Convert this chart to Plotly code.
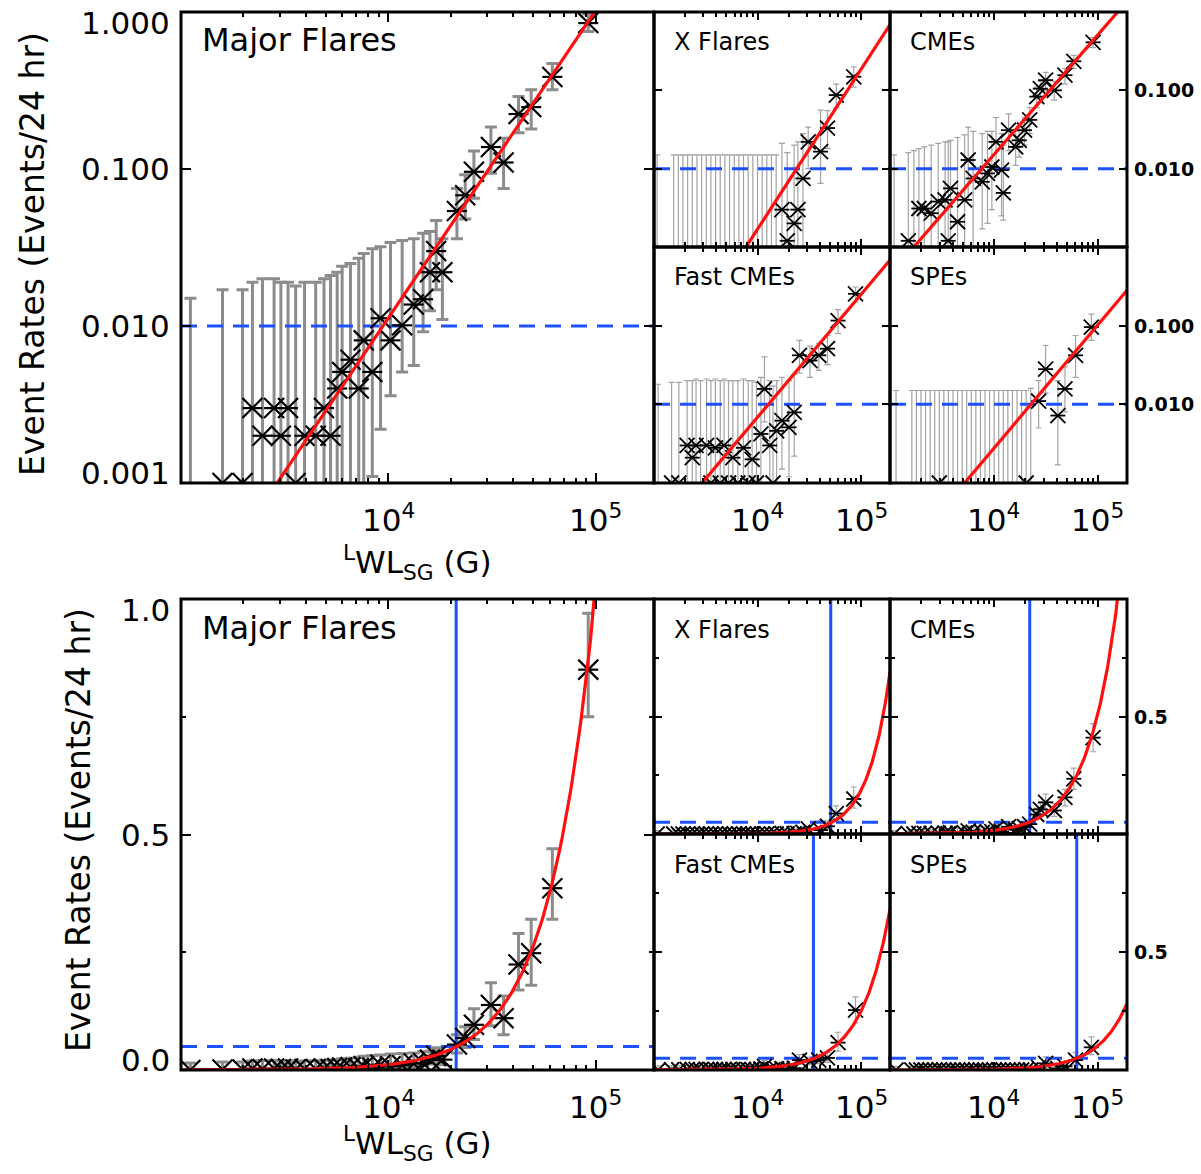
import numpy as np
import plotly.graph_objects as go

# ---------------- data ----------------
panel_names = ["Major Flares", "X Flares", "CMEs", "Fast CMEs", "SPEs"]

# Major flares: bin LWL_SG (G), event rate (events / 24 hr), error-bar upper / lower ends
lwl_major = [1110, 1585, 1980, 2210, 2470, 2810, 3030, 3280, 3570, 3940, 4460, 4890, 5260,
             5660, 5980, 6560, 7190, 7600, 8360, 9160, 10230, 11640, 13240, 14690, 15850,
             16980, 18200, 21380, 23440, 25820, 31190, 35890, 42360, 48750, 61660, 91830]
rate_major = [0, 0.001, 0.001, 0.003, 0.002, 0.003, 0.002, 0.003, 0.001, 0.002, 0.002, 0.003,
              0.002, 0.004, 0.0051, 0.0061, 0.004, 0.0081, 0.0051, 0.0112, 0.0081, 0.0101,
              0.0137, 0.0148, 0.022, 0.030, 0.022, 0.054, 0.068, 0.096, 0.138, 0.110, 0.224,
              0.248, 0.386, 0.85]
hi_major = [0.015, 0.017, 0.017, 0.019, 0.020, 0.020, 0.019, 0.019, 0.018, 0.019, 0.019, 0.020,
            0.021, 0.022, 0.024, 0.025, 0.027, 0.029, 0.031, 0.032, 0.034, 0.035, 0.036, 0.039,
            0.040, 0.047, 0.036, 0.075, 0.092, 0.13, 0.185, 0.157, 0.29, 0.32, 0.47, 0.97]
lo_major = [0, 0, 0, 0, 0, 0, 0, 0, 0, 0, 0, 0, 0, 0, 0, 0, 0, 0, 0.0011, 0.0022, 0.0036,
            0.0051, 0.0056, 0.0092, 0.0125, 0.017, 0.011, 0.036, 0.048, 0.065, 0.094, 0.075,
            0.17, 0.18, 0.32, 0.75]

# X flares
lwl_xfl = [1072, 1549, 1718, 1905, 2113, 2344, 2600, 2884, 3199, 3548, 3936, 4365, 4842, 5370,
           5957, 6607, 7328, 8128, 9016, 10000, 11092, 12303, 13646, 15136, 17219, 19364,
           22594, 24547, 27479, 30903, 40644, 47424, 57677, 85114]
rate_xfl = [0, 0, 0, 0, 0, 0, 0, 0, 0, 0, 0, 0, 0, 0, 0, 0, 0, 0, 0, 0, 0, 0, 0, 0,
            0.003, 0.0012, 0.002, 0.003, 0.0075, 0.022, 0.0165, 0.033, 0.087, 0.149]
hi_xfl = [0.015, 0.015, 0.015, 0.015, 0.015, 0.015, 0.015, 0.015, 0.015, 0.015, 0.015, 0.015,
          0.015, 0.015, 0.015, 0.015, 0.015, 0.015, 0.015, 0.015, 0.015, 0.015, 0.015, 0.015,
          0.021, 0.016, 0.020, 0.022, 0.028, 0.034, 0.056, 0.055, 0.12, 0.20]
lo_xfl = [0, 0, 0, 0, 0, 0, 0, 0, 0, 0, 0, 0, 0, 0, 0, 0, 0, 0, 0, 0, 0, 0, 0, 0,
          0, 0, 0, 0, 0, 0.010, 0.0065, 0.018, 0.06, 0.11]

# CMEs
lwl_cme = [1096, 1500, 1698, 1897, 2138, 2489, 2911, 3388, 3631, 3819, 4467, 5224, 5649, 6310,
           7709, 8670, 9550, 10471, 11830, 12303, 13836, 16181, 17498, 19679, 22080, 25823,
           27925, 31405, 38107, 48195, 58614, 89950]
rate_cme = [0, 0.0012, 0, 0.0031, 0.0031, 0.0027, 0.0038, 0.004, 0.0012, 0.0056, 0.0021, 0.004,
            0.0129, 0.0075, 0.0068, 0.0087, 0.0105, 0.022, 0.0096, 0.0049, 0.031, 0.019, 0.023,
            0.031, 0.042, 0.083, 0.105, 0.135, 0.10, 0.156, 0.235, 0.41]
hi_cme = [0.015, 0.016, 0.017, 0.018, 0.019, 0.020, 0.021, 0.022, 0.022, 0.023, 0.025, 0.027,
          0.034, 0.030, 0.028, 0.030, 0.030, 0.045, 0.028, 0.020, 0.050, 0.030, 0.035, 0.045,
          0.060, 0.11, 0.13, 0.17, 0.13, 0.19, 0.28, 0.47]
lo_cme = [0, 0, 0, 0, 0, 0, 0, 0, 0, 0, 0, 0, 0.004, 0, 0.0017, 0.002, 0.003, 0.010, 0.0025,
          0.0022, 0.017, 0.011, 0.014, 0.020, 0.028, 0.06, 0.08, 0.10, 0.075, 0.12, 0.19, 0.35]

# Fast CMEs
lwl_fcme = [1096, 1479, 1738, 2089, 2344, 2547, 2818, 3221, 3548, 3917, 4365, 4753, 5248, 5781,
            6457, 7311, 8128, 8872, 9772, 10789, 11668, 13122, 14125, 15311, 17219, 20137,
            22646, 25410, 32137, 39084, 47424, 59979, 88512]
rate_fcme = [0, 0.001, 0.001, 0.003, 0.0021, 0.003, 0, 0.003, 0.001, 0.0028, 0.001, 0.003,
             0.001, 0.0021, 0.001, 0.0028, 0.001, 0.002, 0.001, 0.0042, 0.0157, 0.003, 0.001,
             0.0046, 0.0062, 0.0051, 0.0079, 0.042, 0.036, 0.042, 0.051, 0.116, 0.254]
hi_fcme = [0.018, 0.019, 0.019, 0.020, 0.020, 0.021, 0.020, 0.021, 0.020, 0.021, 0.020, 0.021,
           0.020, 0.020, 0.020, 0.021, 0.020, 0.020, 0.019, 0.022, 0.040, 0.020, 0.017, 0.020,
           0.022, 0.020, 0.024, 0.065, 0.055, 0.060, 0.075, 0.16, 0.31]
lo_fcme = [0, 0, 0, 0, 0, 0, 0, 0, 0, 0, 0, 0, 0, 0, 0, 0, 0, 0, 0, 0, 0.006, 0, 0, 0,
           0.0015, 0.0012, 0.0022, 0.025, 0.022, 0.027, 0.032, 0.08, 0.20]

# SPEs
lwl_spe = [1143, 1622, 1795, 1986, 2198, 2432, 2692, 2979, 3296, 3648, 4036, 4467, 4943, 5470,
           6053, 6699, 7413, 8204, 9078, 10046, 11117, 12303, 13614, 15066, 16672, 18450,
           20417, 22594, 26915, 31405, 41210, 48195, 60954, 86497]
rate_spe = [0, 0, 0, 0, 0, 0, 0, 0.001, 0, 0, 0, 0, 0, 0, 0, 0, 0, 0, 0, 0, 0, 0, 0, 0, 0, 0,
            0.001, 0, 0.011, 0.028, 0.0072, 0.0157, 0.042, 0.096]
hi_spe = [0.015, 0.015, 0.015, 0.015, 0.015, 0.015, 0.015, 0.015, 0.015, 0.015, 0.015, 0.015,
          0.015, 0.015, 0.015, 0.015, 0.015, 0.015, 0.015, 0.015, 0.015, 0.015, 0.015, 0.015,
          0.015, 0.015, 0.015, 0.016, 0.020, 0.056, 0.020, 0.030, 0.075, 0.14]
lo_spe = [0, 0, 0, 0, 0, 0, 0, 0, 0, 0, 0, 0, 0, 0, 0, 0, 0, 0, 0, 0, 0, 0, 0, 0, 0, 0, 0, 0,
          0.005, 0.014, 0.0017, 0.008, 0.022, 0.065]

# power-law fits: rate = (LWL / lwl_unit) ** slope
fit_slope = [1.96, 2.04, 1.53, 1.56, 1.567]
fit_lwl_unit = [98600, 228600, 154900, 243800, 428500]
level_log = 0.01          # dashed level, log-log panels
level_lin = 0.05          # dashed level, linear panels
thresh_lwl = [21200, 51000, 22100, 34700, 62600]   # vertical lines, linear panels

y_ticks_log = [0.001, 0.01, 0.1, 1.0]
y_ticktext_log = ["0.001", "0.010", "0.100", "1.000"]
y_ticks_lin = [0.0, 0.5, 1.0]
y_ticktext_lin = ["0.0", "0.5", "1.0"]
x_ticks = [1e4, 1e5]
x_ticktext = ["10<sup>4</sup>", "10<sup>5</sup>"]

series = [
    (lwl_major, rate_major, hi_major, lo_major),
    (lwl_xfl, rate_xfl, hi_xfl, lo_xfl),
    (lwl_cme, rate_cme, hi_cme, lo_cme),
    (lwl_fcme, rate_fcme, hi_fcme, lo_fcme),
    (lwl_spe, rate_spe, hi_spe, lo_spe),
]

# ---------------- layout ----------------
W, H = 1201, 1174
FONT = "DejaVu Sans"
XR = [3.0, 5.28]
RED = "#ff1010"
BLUE = "#1f50ff"
boxes = [(181, 654, 12, 483), (654, 890, 12, 247), (890, 1127, 12, 247),
         (654, 890, 247, 483), (890, 1127, 247, 483)]
DY = 587
minor_x = [m * 10 ** e for e in (3, 4) for m in range(2, 10)] + [2e5]

fig = go.Figure()
layout_axes = {}
ann = []
shapes = []


def axname(kind, i):
    return kind if i == 1 else f"{kind}{i}"


for half in range(2):
    logy = half == 0
    for k in range(5):
        i = half * 5 + k + 1
        x0, x1, y0, y1 = boxes[k]
        y0 += DY * half
        y1 += DY * half
        big = k == 0
        xs, ys = axname("x", i), axname("y", i)
        lwl, rate, hi, lo = series[k]

        # error bars
        if logy:
            anchor = [r if r > 0 else h for r, h in zip(rate, hi)]
            low = [l if l > 0 else 1e-7 for l in lo]
        else:
            anchor = list(rate)
            low = list(lo)
        plus = [h - a for h, a in zip(hi, anchor)]
        minus = [a - l for a, l in zip(anchor, low)]
        fig.add_trace(go.Scatter(
            x=lwl, y=anchor, mode="markers", xaxis=xs, yaxis=ys, showlegend=False,
            hoverinfo="skip", marker=dict(size=1, color="rgba(0,0,0,0)"),
            error_y=dict(type="data", symmetric=False, array=plus, arrayminus=minus,
                         color="#8c8c8c" if big else "#a3a3a3",
                         thickness=3 if big else 1.2, width=6 if big else 3)))

        # dashed level
        lvl = level_log if logy else level_lin
        fig.add_trace(go.Scatter(
            x=[10 ** XR[0], 10 ** XR[1]], y=[lvl, lvl], mode="lines", xaxis=xs, yaxis=ys,
            showlegend=False, hoverinfo="skip",
            line=dict(color=BLUE, width=3, dash="16px,10px")))
        if not logy:
            fig.add_trace(go.Scatter(
                x=[thresh_lwl[k], thresh_lwl[k]], y=[0, 1], mode="lines", xaxis=xs, yaxis=ys,
                showlegend=False, hoverinfo="skip", line=dict(color=BLUE, width=3)))

        # asterisks
        if logy:
            px = [x for x, r in zip(lwl, rate) if r > 0]
            py = [r for r in rate if r > 0]
        else:
            px, py = list(lwl), list(rate)
        s = 20 if big else 15
        lw = 2.2 if big else 1.8
        for sym, sz in (("x-thin-open", s), ("line-ew-open", s / 1.4)):
            fig.add_trace(go.Scatter(x=px, y=py, mode="markers", xaxis=xs, yaxis=ys,
                                     showlegend=False, hoverinfo="skip",
                                     marker=dict(symbol=sym, size=sz, color="black",
                                                 line=dict(color="black", width=lw))))

        # fit
        gx = np.logspace(XR[0], XR[1], 300)
        gy = (gx / fit_lwl_unit[k]) ** fit_slope[k]
        fig.add_trace(go.Scatter(x=gx, y=gy, mode="lines", xaxis=xs, yaxis=ys,
                                 showlegend=False, hoverinfo="skip",
                                 line=dict(color=RED, width=3.2)))

        # axes (frame drawn as a shape so shared borders stay thin)
        layout_axes["xaxis" if i == 1 else f"xaxis{i}"] = dict(
            domain=[x0 / W, x1 / W], anchor=ys, type="log", range=XR,
            showline=False, mirror="allticks",
            ticks="inside", ticklen=10 if big else 8, tickwidth=2, tickcolor="black",
            tickvals=x_ticks, showticklabels=False, showgrid=False, zeroline=False,
            minor=dict(ticks="inside", ticklen=5, tickwidth=1.5, tickcolor="black",
                       tickvals=minor_x, showgrid=False))
        ydict = dict(domain=[1 - y1 / H, 1 - y0 / H], anchor=xs,
                     showline=False, mirror="allticks",
                     ticks="inside", ticklen=10 if big else 8, tickwidth=2,
                     tickcolor="black", showticklabels=False, showgrid=False,
                     zeroline=False)
        if logy:
            ydict.update(type="log", range=[-3, 0], tickvals=y_ticks_log)
        else:
            ydict.update(type="linear", range=[0, 1], tickvals=y_ticks_lin,
                         minor=dict(ticks="inside", ticklen=5, tickwidth=1.5,
                                    tickcolor="black", tickvals=[0.25, 0.75],
                                    showgrid=False))
        layout_axes["yaxis" if i == 1 else f"yaxis{i}"] = ydict
        shapes.append(dict(type="rect", xref=f"{xs} domain", yref=f"{ys} domain",
                           x0=0, x1=1, y0=0, y1=1, layer="above",
                           line=dict(color="black", width=3)))

        # panel title
        big_ty = 40 if k == 0 else (42 if k in (1, 2) else 277)
        tx = 200 if k == 0 else (672 if k in (1, 3) else 908)
        ann.append(dict(text=panel_names[k], xref="paper", yref="paper",
                        x=tx / W, y=1 - (big_ty + DY * half + (0 if half == 0 else 1)) / H,
                        xanchor="left", yanchor="middle", showarrow=False,
                        font=dict(family=FONT, size=32 if big else 24, color="black")))

        # x tick labels (bottom-row panels and big panel)
        if k in (0, 3, 4):
            for v, t in zip(x_ticks, x_ticktext):
                ann.append(dict(text=t, xref=xs, yref="paper", x=np.log10(v),
                                y=1 - y1 / H, xanchor="center", yanchor="top",
                                yshift=-13, showarrow=False,
                                font=dict(family=FONT, size=31, color="black")))

        # left y tick labels on big panel
        if big:
            vals = y_ticks_log if logy else y_ticks_lin
            texts = y_ticktext_log if logy else y_ticktext_lin
            for j, (v, t) in enumerate(zip(vals, texts)):
                sh = 0
                if j == 0:
                    sh = 10
                elif j == len(vals) - 1:
                    sh = -11
                ann.append(dict(text=t, xref="paper", yref=ys, x=x0 / W,
                                y=np.log10(v) if logy else v, xanchor="right",
                                yanchor="middle", xshift=-9, yshift=sh, showarrow=False,
                                font=dict(family=FONT, size=31, color="black")))

        # right y tick labels on right column
        if k in (2, 4):
            if logy:
                rv, rt = y_ticks_log[1:3], y_ticktext_log[1:3]
            else:
                rv, rt = [0.5], ["0.5"]
            for v, t in zip(rv, rt):
                ann.append(dict(text="<b>" + t + "</b>", xref="paper", yref=ys,
                                x=x1 / W, y=np.log10(v) if logy else v,
                                xanchor="left", yanchor="middle", xshift=5,
                                showarrow=False,
                                font=dict(family=FONT, size=19, color="black")))

# axis titles
for half, (ytx, yty, xty) in enumerate([(32, 254, 562), (78, 830, 1143)]):
    ann.append(dict(text="Event Rates (Events/24 hr)", xref="paper", yref="paper",
                    x=ytx / W, y=1 - yty / H, xanchor="center", yanchor="middle",
                    textangle=-90, showarrow=False,
                    font=dict(family=FONT, size=33, color="black")))
    ann.append(dict(text="<sup>L</sup>WL<sub>SG</sub> (G)", xref="paper", yref="paper",
                    x=417 / W, y=1 - xty / H, xanchor="center", yanchor="middle",
                    showarrow=False, font=dict(family=FONT, size=31, color="black")))

fig.update_layout(width=W, height=H, margin=dict(l=0, r=0, t=0, b=0),
                  paper_bgcolor="white", plot_bgcolor="white",
                  annotations=ann, shapes=shapes, showlegend=False, **layout_axes)

fig.write_html("out.html")
